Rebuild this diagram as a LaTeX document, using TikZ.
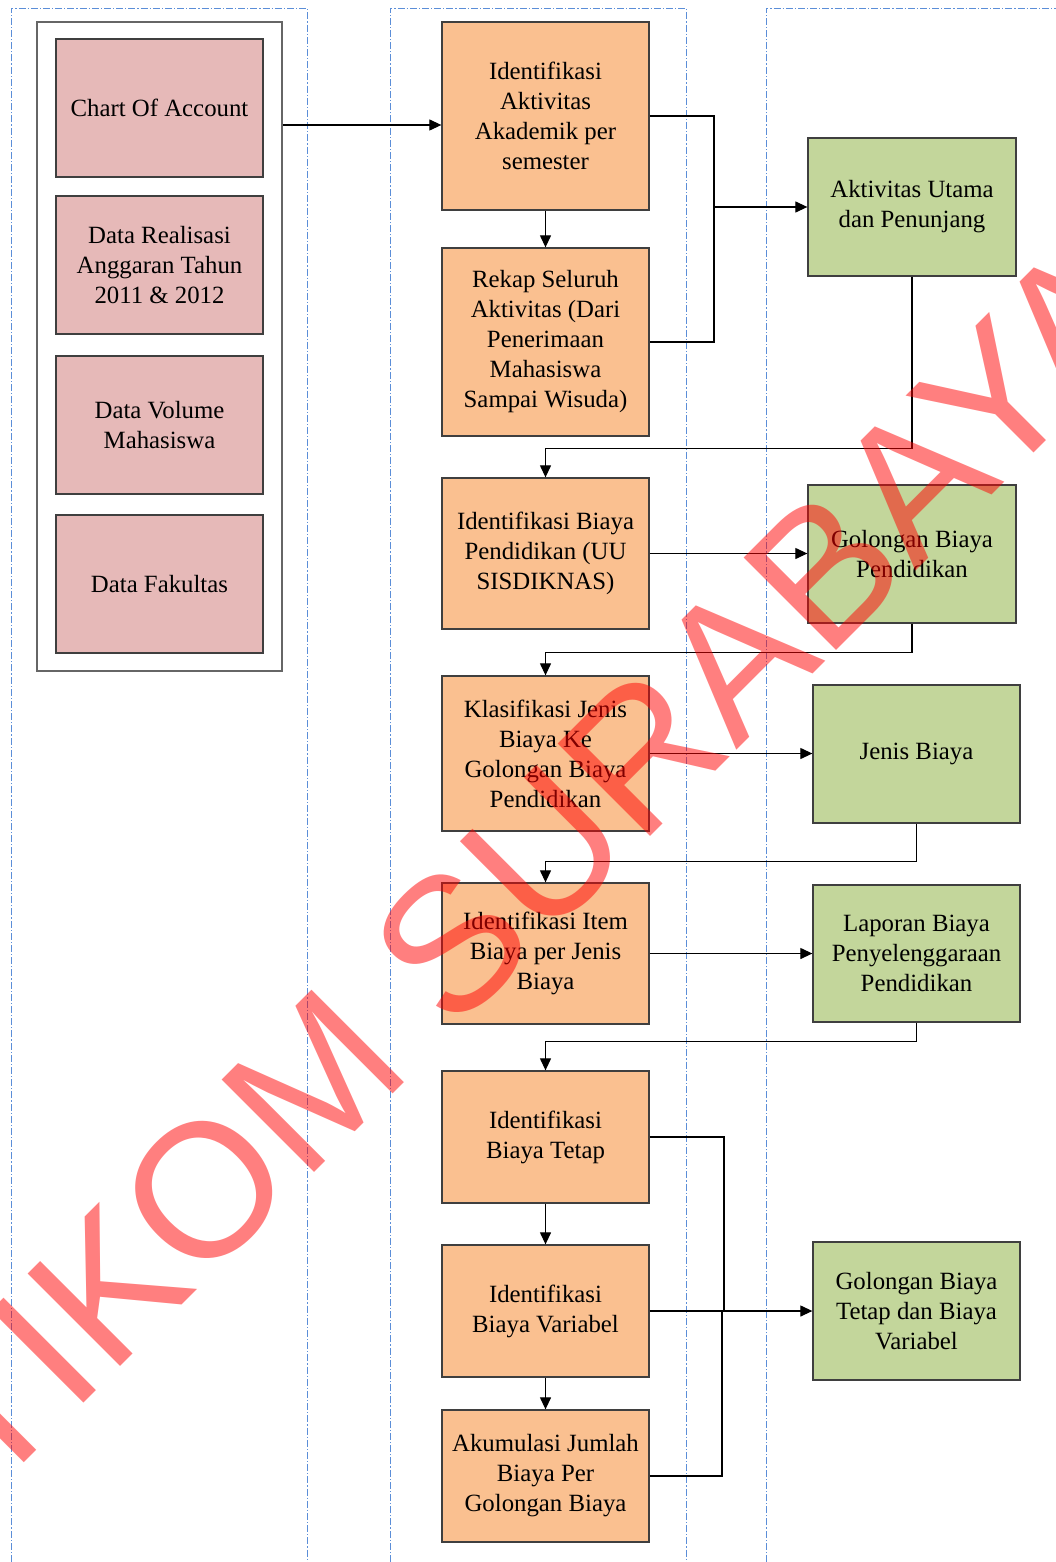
\documentclass[tikz,border=0pt]{standalone}
\usepackage{fontspec}
\setmainfont{Liberation Serif}
\newfontfamily\wmfont{Liberation Sans}
\usetikzlibrary{arrows.meta,positioning,calc}
\definecolor{pinkfill}{HTML}{E6B9B8}
\definecolor{orangefill}{HTML}{FAC090}
\definecolor{greenfill}{HTML}{C3D69B}
\definecolor{boxborder}{HTML}{3F3F3F}
\definecolor{lanecol}{HTML}{5B8ED8}
\definecolor{wmred}{HTML}{FF0000}
\begin{document}
\begin{tikzpicture}[x=1pt,y=-1pt,
  base/.style={draw=boxborder,line width=1.3pt,inner sep=0pt,align=center,
    font=\fontsize{24.8}{30}\selectfont},
  pinkbox/.style={base,fill=pinkfill,minimum width=207pt},
  orangebox/.style={base,fill=orangefill,minimum width=207pt},
  greenbox/.style={base,fill=greenfill,minimum width=207pt},
  container/.style={draw=black!60,line width=1.5pt,minimum width=245pt,minimum height=649pt,inner sep=0pt},
  conn/.style={line width=1.2pt,draw=black},
  arr/.style={conn,-{Triangle[length=12pt,width=11pt]}},
  lane/.style={draw=lanecol,line width=0.9pt,dash pattern=on 7pt off 2pt on 1.2pt off 2pt},
  watermark/.style={text=wmred,text opacity=0.5,inner sep=0pt,anchor=base west,
    font=\wmfont\fontsize{190}{190}\selectfont}
]
\useasboundingbox (0,0) rectangle (1056,1562);
\fill[white] (0,0) rectangle (1056,1562);

% swimlanes
\draw[lane] (11,1562) -- (11,8) -- (307,8) -- (307,1562);
\draw[lane] (390,1562) -- (390,8) -- (686,8) -- (686,1562);
\draw[lane] (766,1562) -- (766,8) -- (1060,8);

% lane 1
\node[container] (cont) at (159.5,346.5) {};
\node[pinkbox,minimum height=138pt] (p1) at (159.5,108) {Chart Of Account};
\node[pinkbox,minimum height=138pt] (p2) at (159.5,265) {Data Realisasi\\Anggaran Tahun\\2011 \& 2012};
\node[pinkbox,minimum height=138pt] (p3) at (159.5,425) {Data Volume\\Mahasiswa};
\node[pinkbox,minimum height=138pt] (p4) at (159.5,584) {Data Fakultas};

% lane 2
\node[orangebox,minimum height=188pt] (o1) at (545.5,116) {Identifikasi\\Aktivitas\\Akademik per\\semester};
\node[orangebox,minimum height=188pt] (o2) at (545.5,342) {Rekap Seluruh\\Aktivitas (Dari\\Penerimaan\\Mahasiswa\\Sampai Wisuda)};
\node[orangebox,minimum height=151pt] (o3) at (545.5,553.5) {Identifikasi Biaya\\Pendidikan (UU\\SISDIKNAS)};
\node[orangebox,minimum height=155pt] (o4) at (545.5,753.5) {Klasifikasi Jenis\\Biaya Ke\\Golongan Biaya\\Pendidikan};
\node[orangebox,minimum height=141pt] (o5) at (545.5,953.5) {Identifikasi Item\\Biaya per Jenis\\Biaya};
\node[orangebox,minimum height=132pt] (o6) at (545.5,1137) {Identifikasi\\Biaya Tetap};
\node[orangebox,minimum height=132pt] (o7) at (545.5,1311) {Identifikasi\\Biaya Variabel};
\node[orangebox,minimum height=132pt] (o8) at (545.5,1476) {Akumulasi Jumlah\\Biaya Per\\Golongan Biaya};

% lane 3
\node[greenbox,minimum width=208pt,minimum height=138pt] (g1) at (912,207) {Aktivitas Utama\\dan Penunjang};
\node[greenbox,minimum width=208pt,minimum height=138pt] (g2) at (912,554) {Golongan Biaya\\Pendidikan};
\node[greenbox,minimum height=138pt] (g3) at (916.5,754) {Jenis Biaya};
\node[greenbox,minimum height=137pt] (g4) at (916.5,953.5) {Laporan Biaya\\Penyelenggaraan\\Pendidikan};
\node[greenbox,minimum height=138pt] (g5) at (916.5,1311) {Golongan Biaya\\Tetap dan Biaya\\Variabel};

% junction points
\coordinate (j1) at (714,207);
\coordinate (j2) at (724,1311);
\coordinate (j3) at (722,1311);

% connectors
\draw[arr] (cont.east |- 0,125) -- (o1.west |- 0,125);
\draw[conn] (o1.east) -| (j1) |- (o2.east);
\draw[arr] (j1) -- (g1.west);
\draw[arr] (o1.south) -- (o2.north);
\draw[arr] (g1.south) -- ++(0,172) -| (o3.north);
\draw[arr] (o3.east) -- (o3.east -| g2.west);
\draw[arr] (g2.south) -- ++(0,29) -| (o4.north);
\draw[arr] (o4.east) -- (o4.east -| g3.west);
\draw[arr] (g3.south) -- ++(0,38) -| (o5.north);
\draw[arr] (o5.east) -- (o5.east -| g4.west);
\draw[arr] (g4.south) -- ++(0,19) -| (o6.north);
\draw[conn] (o6.east) -| (j2);
\draw[arr] (o6.south) -- (o7.north);
\draw[arr] (o7.east) -- (o7.east -| g5.west);
\draw[arr] (o7.south) -- (o8.north);
\draw[conn] (o8.east) -| (j3);

% watermark
\node[watermark,rotate=45] (wm) at (-100,1587) {STIKOM SURABAYA};
\end{tikzpicture}
\end{document}
